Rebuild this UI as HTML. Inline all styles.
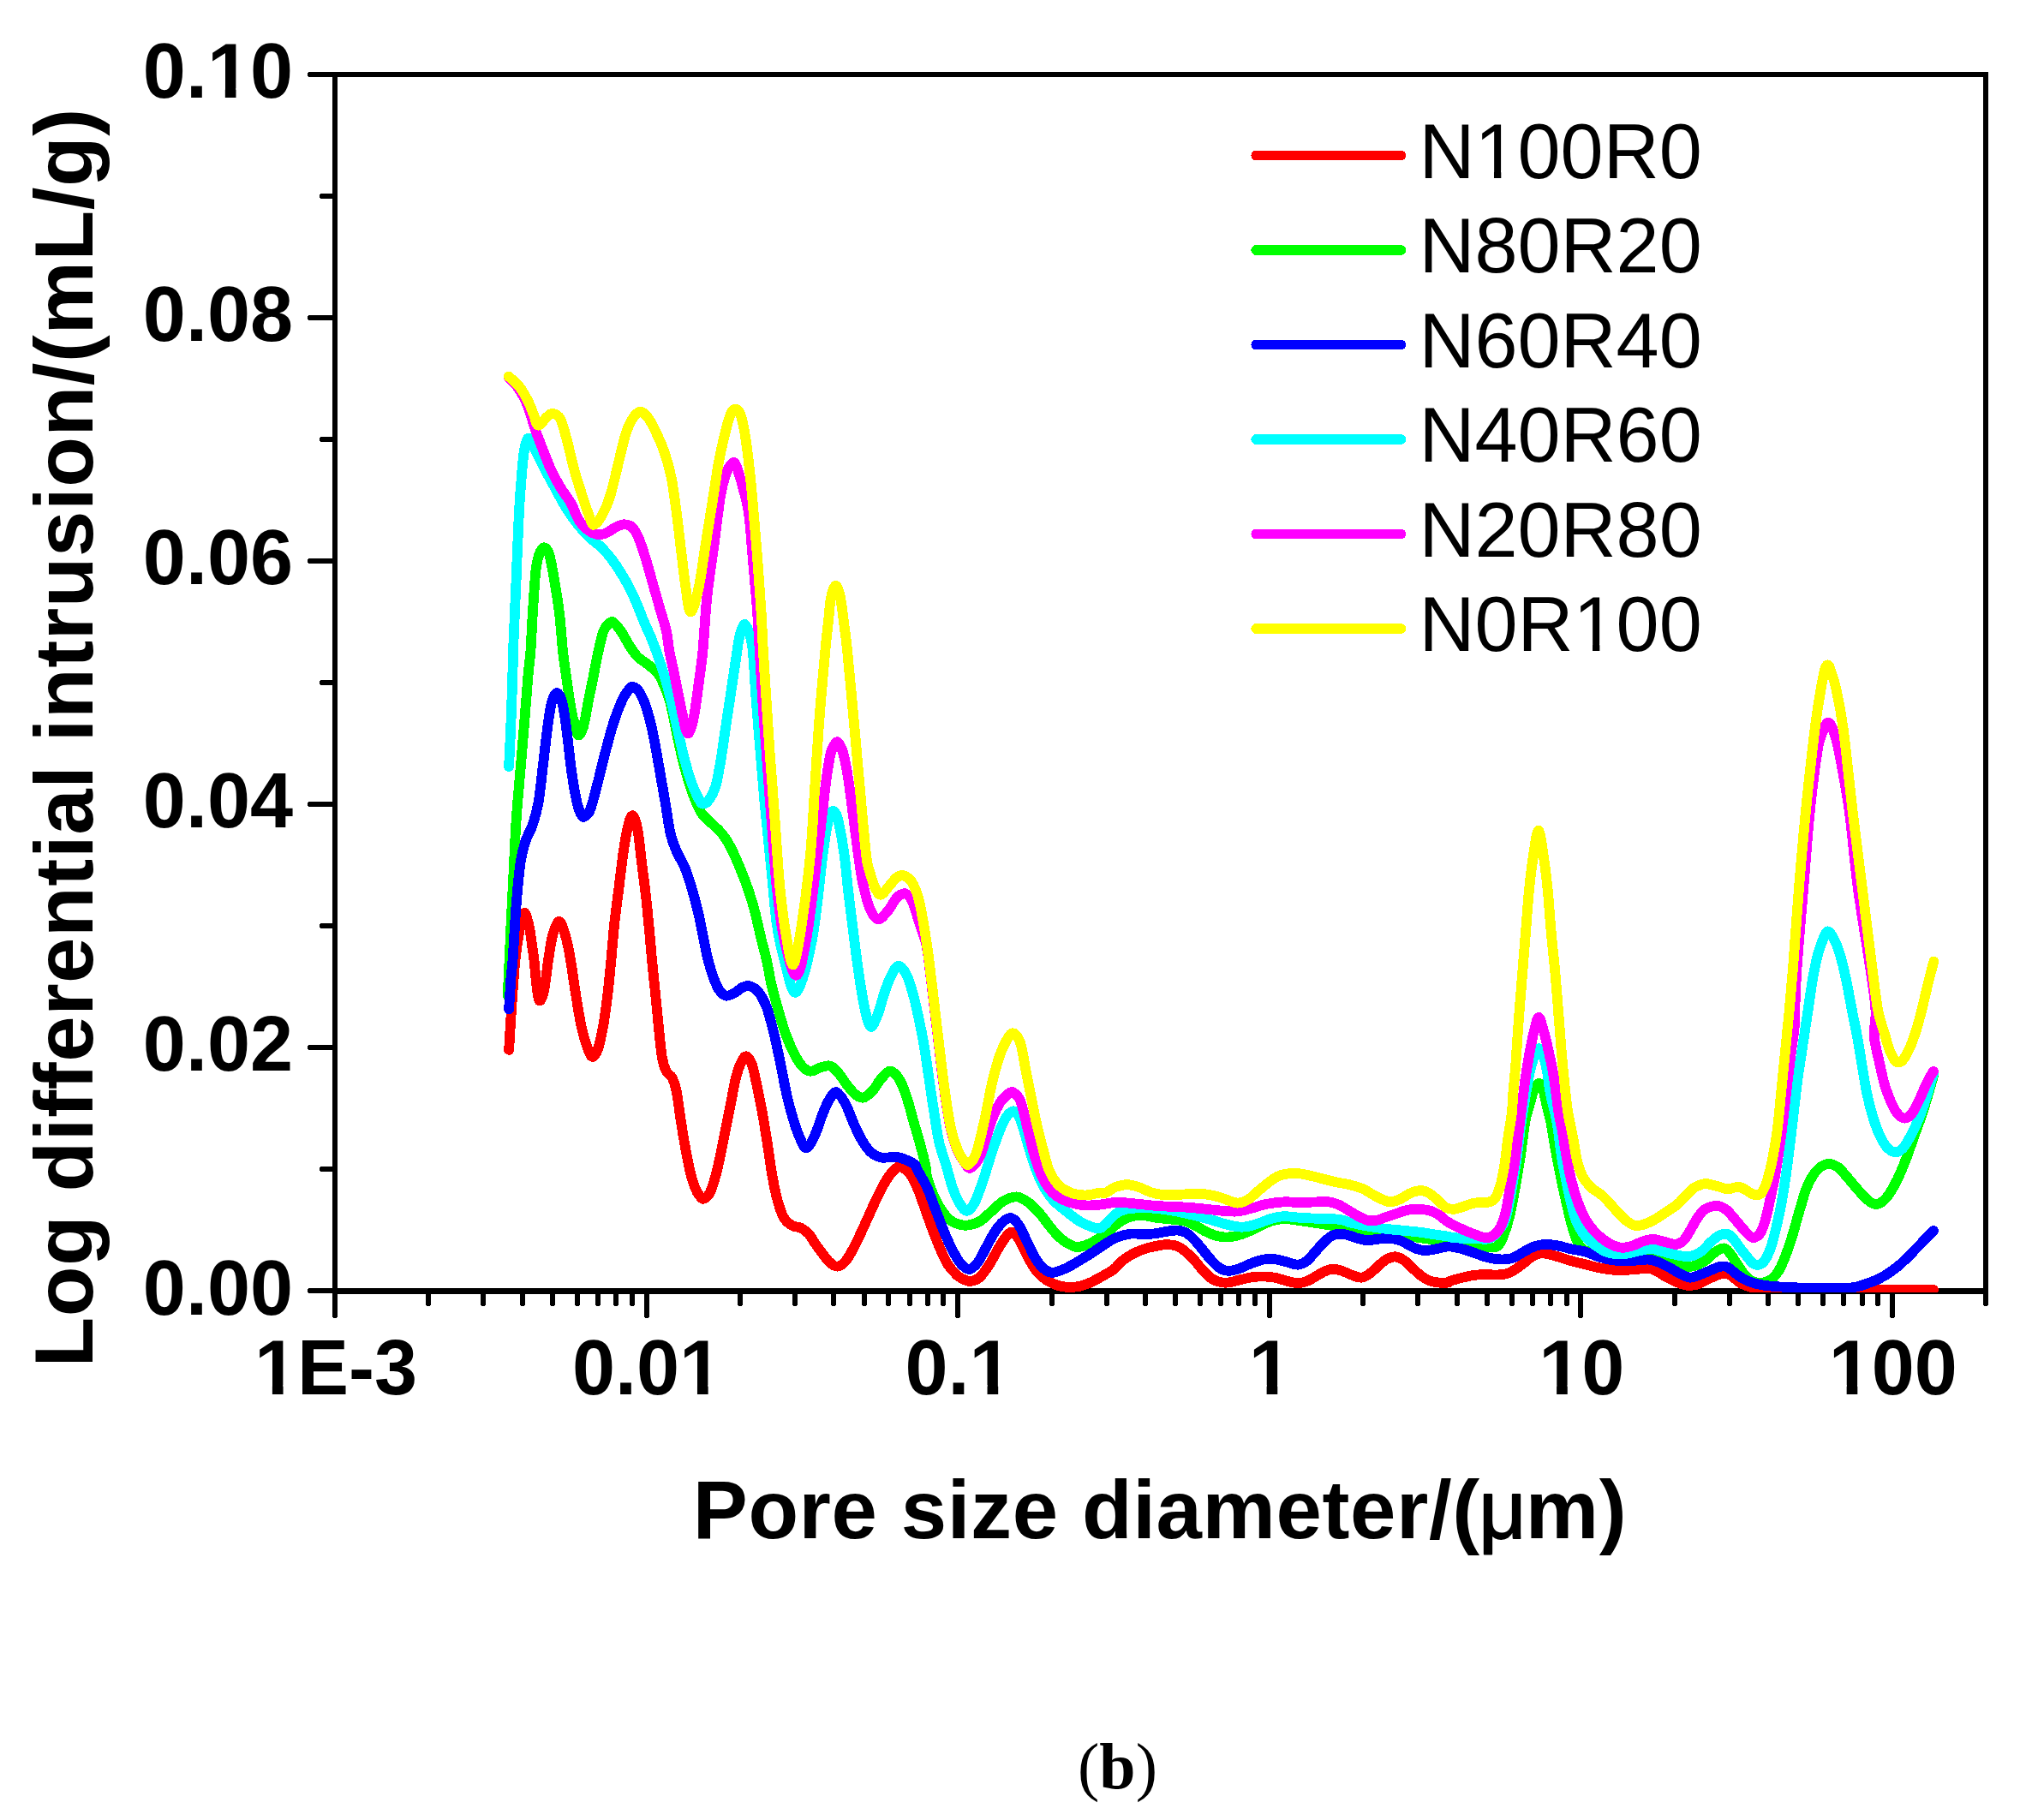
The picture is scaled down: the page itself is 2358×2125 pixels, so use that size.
<!DOCTYPE html>
<html lang="en"><head><meta charset="utf-8"><title>Pore size distribution (b)</title>
<style>html,body{margin:0;padding:0;background:#fff}svg{display:block}text{font-family:"Liberation Sans",sans-serif;fill:#000}.b{font-weight:bold}.tk{font-size:90px;font-weight:bold}.ti{font-size:96px;font-weight:bold}.lg{font-size:90px}</style></head><body>
<svg width="2358" height="2125" viewBox="0 0 2358 2125">
<rect width="2358" height="2125" fill="#fff"/>
<g fill="#000" shape-rendering="crispEdges">
<rect x="388" y="84" width="1933" height="6"/>
<rect x="388" y="84" width="6" height="1427"/>
<rect x="2315" y="84" width="6" height="1427"/>
<rect x="388" y="1504" width="1933" height="7"/>
</g>
<g stroke="#000" stroke-width="6" stroke-linecap="round" fill="none" shape-rendering="crispEdges">
<path d="M391 1507H362"/>
<path d="M391 1365H376"/>
<path d="M391 1223H362"/>
<path d="M391 1081H376"/>
<path d="M391 939H362"/>
<path d="M391 797H376"/>
<path d="M391 655H362"/>
<path d="M391 513H376"/>
<path d="M391 371H362"/>
<path d="M391 229H376"/>
<path d="M391 87H362"/>
<path d="M391 1507V1536"/>
<path d="M500 1507V1522"/>
<path d="M564 1507V1522"/>
<path d="M610 1507V1522"/>
<path d="M645 1507V1522"/>
<path d="M674 1507V1522"/>
<path d="M698 1507V1522"/>
<path d="M719 1507V1522"/>
<path d="M738 1507V1522"/>
<path d="M755 1507V1536"/>
<path d="M864 1507V1522"/>
<path d="M928 1507V1522"/>
<path d="M973 1507V1522"/>
<path d="M1009 1507V1522"/>
<path d="M1037 1507V1522"/>
<path d="M1062 1507V1522"/>
<path d="M1083 1507V1522"/>
<path d="M1101 1507V1522"/>
<path d="M1118 1507V1536"/>
<path d="M1228 1507V1522"/>
<path d="M1292 1507V1522"/>
<path d="M1337 1507V1522"/>
<path d="M1372 1507V1522"/>
<path d="M1401 1507V1522"/>
<path d="M1425 1507V1522"/>
<path d="M1446 1507V1522"/>
<path d="M1465 1507V1522"/>
<path d="M1482 1507V1536"/>
<path d="M1591 1507V1522"/>
<path d="M1655 1507V1522"/>
<path d="M1701 1507V1522"/>
<path d="M1736 1507V1522"/>
<path d="M1765 1507V1522"/>
<path d="M1789 1507V1522"/>
<path d="M1810 1507V1522"/>
<path d="M1829 1507V1522"/>
<path d="M1845 1507V1536"/>
<path d="M1955 1507V1522"/>
<path d="M2019 1507V1522"/>
<path d="M2064 1507V1522"/>
<path d="M2099 1507V1522"/>
<path d="M2128 1507V1522"/>
<path d="M2152 1507V1522"/>
<path d="M2174 1507V1522"/>
<path d="M2192 1507V1522"/>
<path d="M2209 1507V1536"/>
<path d="M2318 1507V1522"/>
</g>
<clipPath id="plot"><rect x="391" y="87" width="1927" height="1422"/></clipPath>
<g clip-path="url(#plot)" fill="none" stroke-width="11.8" stroke-linecap="round" stroke-linejoin="round" shape-rendering="crispEdges">
<path stroke="#ff0000" d="M594.1 1225.9C594.7 1216.5 596.4 1187.2 597.6 1169.5C598.9 1151.8 600.1 1133.9 601.6 1120.0C603.1 1106.1 604.8 1095.3 606.5 1086.3C608.3 1077.3 610.1 1066.9 611.9 1065.9C613.7 1065.0 615.8 1073.7 617.4 1080.4C619.0 1087.1 620.4 1099.5 621.4 1106.1C622.4 1112.7 622.5 1112.7 623.4 1120.0C624.2 1127.3 625.3 1141.6 626.3 1149.7C627.4 1157.8 628.2 1167.5 629.7 1168.5C631.2 1169.5 633.5 1163.7 635.2 1155.6C637.0 1147.6 638.5 1130.6 640.2 1120.0C641.8 1109.4 643.1 1099.6 645.1 1092.3C647.2 1084.9 650.2 1075.8 652.7 1075.8C655.1 1075.8 657.8 1084.9 660.0 1092.3C662.2 1099.6 664.0 1108.8 665.9 1120.0C667.9 1131.2 669.7 1146.4 671.9 1159.6C674.0 1172.8 676.5 1188.6 678.8 1199.2C681.1 1209.8 683.6 1217.2 685.7 1223.0C687.9 1228.7 689.5 1233.9 691.7 1233.9C693.8 1233.9 696.5 1229.4 698.6 1223.0C700.8 1216.5 702.7 1205.8 704.6 1195.2C706.4 1184.7 708.0 1172.1 709.5 1159.6C711.0 1147.1 712.1 1133.8 713.5 1120.0C714.8 1106.2 715.9 1090.6 717.4 1076.8C718.9 1063.0 720.7 1050.4 722.4 1037.2C724.0 1024.0 725.7 1009.2 727.3 997.6C729.0 986.1 730.5 975.5 732.3 967.9C734.1 960.3 736.2 952.1 738.2 952.1C740.2 952.1 742.3 958.7 744.2 967.9C746.0 977.2 747.5 994.3 749.1 1007.5C750.8 1020.7 752.6 1033.9 754.1 1047.1C755.5 1060.3 756.9 1074.6 758.0 1086.7C759.2 1098.9 759.8 1107.9 761.0 1120.0C762.1 1132.1 763.6 1146.4 765.0 1159.6C766.3 1172.8 767.6 1186.7 768.9 1199.2C770.2 1211.7 771.4 1226.3 772.9 1234.9C774.4 1243.4 775.8 1246.7 777.8 1250.7C779.8 1254.7 782.8 1254.7 784.8 1258.6C786.7 1262.6 788.1 1266.2 789.7 1274.5C791.4 1282.7 793.0 1297.6 794.7 1308.1C796.3 1318.7 797.8 1327.9 799.6 1337.8C801.4 1347.7 803.6 1359.3 805.5 1367.5C807.5 1375.8 809.5 1382.4 811.5 1387.3C813.5 1392.3 815.8 1395.2 817.4 1397.2C819.1 1399.3 819.6 1400.3 821.4 1399.6C823.2 1398.9 826.0 1397.6 828.3 1393.3C830.6 1388.9 833.1 1381.1 835.2 1373.5C837.4 1365.9 839.2 1357.0 841.2 1347.7C843.2 1338.5 845.1 1327.9 847.1 1318.0C849.1 1308.1 851.1 1298.2 853.1 1288.3C855.0 1278.4 857.0 1266.5 859.0 1258.6C861.0 1250.7 862.9 1245.0 865.0 1240.8C867.0 1236.6 869.1 1232.9 871.3 1233.3C873.4 1233.6 875.7 1236.9 877.8 1242.8C879.9 1248.6 881.8 1259.3 883.8 1268.5C885.7 1277.8 887.7 1287.3 889.7 1298.2C891.7 1309.1 893.8 1322.3 895.6 1333.9C897.5 1345.4 898.8 1357.0 900.6 1367.5C902.4 1378.1 904.2 1388.3 906.5 1397.2C908.8 1406.1 911.5 1415.4 914.5 1421.0C917.4 1426.6 920.9 1428.7 924.4 1430.9C927.8 1433.0 931.9 1432.2 935.2 1433.9C938.5 1435.5 941.4 1437.7 944.2 1440.8C947.0 1443.9 948.2 1447.4 952.1 1452.7C955.9 1458.0 963.0 1468.3 967.3 1472.7C971.7 1477.0 974.6 1479.1 978.2 1478.6C981.8 1478.1 985.3 1474.8 989.1 1469.7C992.9 1464.6 997.0 1455.8 1001.0 1447.9C1005.0 1440.0 1008.9 1430.8 1012.9 1422.2C1016.8 1413.6 1020.8 1404.4 1024.8 1396.4C1028.7 1388.5 1033.0 1380.1 1036.6 1374.7C1040.3 1369.2 1043.9 1365.7 1046.5 1363.8C1049.2 1361.8 1049.8 1361.6 1052.5 1362.8C1055.1 1363.9 1059.1 1366.1 1062.4 1370.7C1065.7 1375.3 1069.0 1382.6 1072.3 1390.5C1075.6 1398.4 1078.5 1408.3 1082.2 1418.2C1085.8 1428.1 1090.1 1440.3 1094.1 1449.9C1098.0 1459.5 1102.0 1469.0 1105.9 1475.6C1109.9 1482.2 1114.2 1486.3 1117.8 1489.5C1121.5 1492.7 1125.1 1494.0 1127.7 1495.0C1130.4 1496.1 1131.0 1496.4 1133.7 1495.8C1136.3 1495.2 1139.9 1494.9 1143.6 1491.5C1147.2 1488.1 1151.8 1481.3 1155.4 1475.6C1159.1 1470.0 1162.0 1463.3 1165.3 1457.8C1168.6 1452.4 1172.4 1446.1 1175.2 1443.0C1178.1 1439.8 1179.5 1437.9 1182.2 1439.0C1184.8 1440.2 1188.0 1444.8 1191.1 1449.9C1194.2 1455.0 1197.7 1463.8 1201.0 1469.7C1204.3 1475.6 1207.3 1481.3 1210.9 1485.5C1214.5 1489.8 1218.5 1492.8 1222.8 1495.4C1227.1 1498.1 1231.7 1500.1 1236.6 1501.4C1241.6 1502.6 1247.2 1503.3 1252.5 1503.0C1257.8 1502.6 1263.0 1501.3 1268.3 1499.4C1273.6 1497.5 1278.9 1494.4 1284.2 1491.5C1289.4 1488.6 1295.6 1485.4 1299.9 1482.2C1304.2 1479.0 1306.2 1475.2 1309.8 1472.3C1313.4 1469.3 1317.4 1466.7 1321.7 1464.4C1326.0 1462.0 1330.9 1460.0 1335.5 1458.4C1340.2 1456.8 1344.8 1455.7 1349.4 1454.9C1354.0 1454.0 1359.0 1453.0 1363.3 1453.1C1367.6 1453.2 1371.5 1453.9 1375.1 1455.4C1378.8 1457.0 1381.7 1459.6 1385.0 1462.4C1388.3 1465.2 1391.7 1468.6 1395.0 1472.3C1398.3 1475.9 1401.6 1480.7 1404.9 1484.2C1408.2 1487.6 1411.5 1490.9 1414.8 1493.1C1418.1 1495.2 1421.4 1496.3 1424.7 1497.0C1428.0 1497.8 1430.6 1497.9 1434.6 1497.4C1438.5 1496.9 1443.8 1495.1 1448.4 1494.1C1453.0 1493.0 1457.7 1491.7 1462.3 1491.1C1466.9 1490.5 1471.8 1490.4 1476.1 1490.5C1480.4 1490.6 1484.1 1490.9 1488.0 1491.7C1492.0 1492.4 1496.3 1494.1 1499.9 1495.0C1503.5 1496.0 1506.8 1497.1 1509.8 1497.6C1512.8 1498.1 1514.8 1498.4 1517.7 1498.0C1520.7 1497.6 1524.0 1496.7 1527.6 1495.0C1531.3 1493.4 1535.9 1490.1 1539.5 1488.1C1543.1 1486.1 1546.4 1484.2 1549.4 1483.2C1552.4 1482.1 1554.4 1481.6 1557.3 1481.8C1560.3 1481.9 1563.6 1482.9 1567.2 1484.2C1570.9 1485.4 1575.5 1487.9 1579.1 1489.1C1582.7 1490.4 1585.7 1492.0 1589.0 1491.7C1592.3 1491.4 1595.6 1489.4 1598.9 1487.1C1602.2 1484.9 1605.5 1481.0 1608.8 1478.2C1612.1 1475.4 1615.4 1472.1 1618.7 1470.3C1622.0 1468.5 1625.3 1467.2 1628.6 1467.3C1631.9 1467.5 1635.2 1469.1 1638.5 1471.3C1641.8 1473.4 1645.1 1477.2 1648.4 1480.2C1651.7 1483.2 1655.0 1486.6 1658.3 1489.1C1661.6 1491.6 1664.9 1493.7 1668.2 1495.0C1671.5 1496.4 1674.5 1497.0 1678.1 1497.4C1681.7 1497.9 1687.7 1497.9 1690.0 1497.6C1692.3 1497.4 1689.3 1497.0 1691.9 1496.0C1694.5 1495.1 1701.1 1493.2 1705.7 1492.1C1710.4 1490.9 1715.0 1489.8 1719.6 1489.1C1724.2 1488.4 1728.8 1488.2 1733.5 1488.1C1738.1 1488.0 1743.0 1488.7 1747.3 1488.5C1751.6 1488.3 1755.9 1488.0 1759.2 1487.1C1762.5 1486.2 1764.2 1485.0 1767.1 1483.2C1770.1 1481.4 1773.7 1478.7 1777.0 1476.2C1780.3 1473.8 1784.0 1470.3 1786.9 1468.3C1789.9 1466.3 1792.2 1465.2 1794.9 1464.4C1797.5 1463.5 1798.8 1462.9 1802.8 1463.4C1806.7 1463.9 1813.3 1465.8 1818.6 1467.3C1823.9 1468.8 1829.2 1470.8 1834.5 1472.3C1839.7 1473.8 1845.0 1474.9 1850.3 1476.2C1855.6 1477.6 1860.9 1479.1 1866.1 1480.2C1871.4 1481.3 1877.4 1482.1 1882.0 1482.6C1886.6 1483.1 1889.6 1483.2 1893.9 1483.2C1898.2 1483.1 1902.4 1482.5 1907.7 1482.2C1913.0 1481.8 1920.9 1480.7 1925.5 1481.2C1930.2 1481.7 1932.1 1483.5 1935.4 1485.1C1938.7 1486.8 1941.7 1489.1 1945.3 1491.1C1949.0 1493.1 1953.6 1495.5 1957.2 1497.0C1960.9 1498.6 1964.5 1499.7 1967.1 1500.4C1969.8 1501.1 1970.4 1501.2 1973.1 1501.0C1975.7 1500.8 1979.3 1500.3 1983.0 1499.0C1986.6 1497.7 1990.9 1494.9 1994.9 1493.1C1998.8 1491.3 2003.4 1489.1 2006.7 1488.1C2010.0 1487.1 2012.2 1486.8 2014.7 1487.1C2017.1 1487.4 2018.6 1488.1 2021.4 1489.9C2024.1 1491.7 2027.6 1495.7 2031.3 1497.8C2034.9 1500.0 2038.9 1501.5 2043.1 1502.8C2047.4 1504.1 2051.4 1505.0 2057.0 1505.5C2062.6 1506.1 2066.9 1506.0 2076.8 1506.1C2086.7 1506.2 2096.6 1506.2 2116.4 1506.1C2136.2 1506.1 2172.2 1506.0 2195.6 1505.9C2219.1 1505.9 2246.8 1505.9 2257.0 1505.9"/>
<path stroke="#00ff00" d="M592.7 1162.6C593.3 1148.3 595.5 1101.0 596.6 1076.8C597.8 1052.6 598.6 1037.2 599.6 1017.4C600.6 997.6 601.3 977.8 602.6 958.0C603.9 938.2 605.9 918.4 607.5 898.6C609.2 878.8 611.0 857.4 612.5 839.2C614.0 821.1 615.3 802.9 616.4 789.7C617.6 776.5 618.5 772.1 619.4 760.0C620.3 747.9 620.8 732.3 621.8 716.8C622.8 701.4 624.1 678.9 625.3 667.3C626.6 655.8 627.7 652.2 629.3 647.5C631.0 642.8 633.3 639.2 635.2 639.2C637.2 639.2 639.2 641.2 641.2 647.5C643.2 653.9 645.1 665.7 647.1 677.2C649.1 688.8 651.4 703.0 653.1 716.8C654.7 730.6 655.7 747.9 657.0 760.0C658.3 772.1 659.3 778.2 661.0 789.7C662.6 801.3 665.1 819.4 666.9 829.3C668.7 839.2 670.5 844.2 671.9 849.1C673.3 854.0 673.8 858.6 675.2 858.6C676.7 858.6 678.9 855.6 680.8 849.1C682.7 842.6 684.8 829.3 686.7 819.4C688.7 809.5 690.7 799.6 692.7 789.7C694.7 779.8 696.6 768.8 698.6 760.0C700.6 751.2 702.6 741.8 704.6 736.6C706.5 731.4 708.7 730.4 710.5 728.7C712.3 727.0 713.1 725.1 715.4 726.3C717.8 727.6 721.1 731.6 724.4 736.2C727.7 740.9 731.9 749.4 735.2 754.5C738.5 759.5 740.7 763.2 744.2 766.7C747.6 770.3 752.1 772.4 756.0 775.6C760.0 778.9 764.8 782.1 767.9 786.1C771.1 790.1 772.5 794.1 774.9 799.6C777.2 805.1 779.7 810.2 782.2 819.4C784.7 828.6 787.2 843.5 789.7 855.0C792.2 866.6 794.7 878.5 797.2 888.7C799.8 898.9 802.6 908.5 805.1 916.4C807.7 924.4 810.1 930.6 812.5 936.2C814.9 941.8 816.6 946.1 819.4 950.1C822.2 954.1 825.3 956.0 829.3 960.0C833.3 964.0 839.2 968.9 843.2 973.9C847.1 978.8 849.8 983.4 853.1 989.7C856.4 996.0 859.7 1003.6 863.0 1011.5C866.3 1019.4 869.9 1028.6 872.9 1037.2C875.8 1045.8 878.2 1053.1 880.8 1063.0C883.4 1072.9 886.4 1087.1 888.7 1096.6C891.0 1106.1 892.7 1111.2 894.7 1120.0C896.6 1128.8 898.3 1139.8 900.6 1149.7C902.9 1159.6 905.9 1170.2 908.5 1179.4C911.2 1188.6 913.5 1196.9 916.4 1205.1C919.4 1213.4 923.0 1222.3 926.3 1228.9C929.6 1235.5 932.9 1241.1 936.2 1244.8C939.5 1248.4 942.6 1250.4 946.1 1250.7C949.7 1251.0 953.6 1247.6 957.4 1246.5C961.3 1245.5 965.7 1243.4 969.3 1244.6C972.9 1245.7 975.9 1249.7 979.2 1253.5C982.5 1257.3 985.8 1263.2 989.1 1267.3C992.4 1271.5 995.9 1275.8 999.0 1278.2C1002.1 1280.6 1004.6 1282.4 1007.9 1281.6C1011.2 1280.8 1015.3 1277.0 1018.8 1273.3C1022.3 1269.6 1025.2 1263.2 1028.7 1259.4C1032.2 1255.6 1036.0 1250.2 1039.6 1250.5C1043.2 1250.8 1047.4 1256.3 1050.5 1261.4C1053.6 1266.5 1055.8 1273.3 1058.4 1281.2C1061.1 1289.1 1063.7 1299.7 1066.3 1308.9C1069.0 1318.2 1071.9 1328.1 1074.3 1336.6C1076.6 1345.1 1078.9 1353.7 1080.2 1360.0C1081.5 1366.3 1080.5 1368.6 1082.2 1374.7C1083.8 1380.7 1087.1 1389.8 1090.1 1396.4C1093.1 1403.0 1096.7 1409.5 1100.0 1414.3C1103.3 1419.0 1106.6 1422.6 1109.9 1425.1C1113.2 1427.7 1116.5 1428.8 1119.8 1429.7C1123.1 1430.6 1125.7 1431.1 1129.7 1430.5C1133.7 1429.9 1138.9 1428.8 1143.6 1426.1C1148.2 1423.4 1152.8 1418.2 1157.4 1414.3C1162.0 1410.3 1166.3 1405.2 1171.3 1402.4C1176.2 1399.6 1182.2 1397.1 1187.1 1397.4C1192.1 1397.8 1196.4 1400.9 1201.0 1404.4C1205.6 1407.8 1210.2 1412.9 1214.9 1418.2C1219.5 1423.5 1224.4 1431.1 1228.7 1436.0C1233.0 1441.0 1236.6 1444.8 1240.6 1447.9C1244.6 1451.1 1249.2 1453.5 1252.5 1454.9C1255.8 1456.2 1257.1 1456.3 1260.4 1455.8C1263.7 1455.3 1268.0 1453.9 1272.3 1451.9C1276.6 1449.9 1283.2 1445.7 1286.1 1444.0C1289.1 1442.2 1287.4 1443.8 1290.0 1441.6C1292.6 1439.4 1297.9 1433.8 1301.9 1430.7C1305.8 1427.6 1310.1 1424.6 1313.8 1422.8C1317.4 1421.0 1320.4 1420.5 1323.7 1419.8C1327.0 1419.1 1329.3 1418.5 1333.6 1418.8C1337.9 1419.1 1343.5 1421.0 1349.4 1421.8C1355.3 1422.6 1363.6 1423.1 1369.2 1423.8C1374.8 1424.4 1378.8 1424.6 1383.1 1425.7C1387.4 1426.9 1391.0 1428.7 1395.0 1430.7C1398.9 1432.7 1402.9 1435.6 1406.8 1437.6C1410.8 1439.6 1414.8 1441.4 1418.7 1442.6C1422.7 1443.7 1426.3 1444.6 1430.6 1444.6C1434.9 1444.6 1439.8 1443.7 1444.5 1442.6C1449.1 1441.4 1453.7 1439.6 1458.3 1437.6C1462.9 1435.6 1467.9 1432.7 1472.2 1430.7C1476.5 1428.7 1480.1 1427.0 1484.1 1425.7C1488.0 1424.5 1492.0 1423.5 1495.9 1423.2C1499.9 1422.8 1502.5 1423.2 1507.8 1423.8C1513.1 1424.4 1521.0 1425.7 1527.6 1426.7C1534.2 1427.7 1540.8 1428.7 1547.4 1429.7C1554.0 1430.7 1560.6 1431.5 1567.2 1432.7C1573.8 1433.8 1580.4 1435.6 1587.0 1436.6C1593.6 1437.6 1600.2 1438.0 1606.8 1438.6C1613.4 1439.3 1620.0 1439.8 1626.6 1440.6C1633.2 1441.4 1639.8 1442.6 1646.4 1443.6C1653.0 1444.6 1660.3 1445.7 1666.2 1446.5C1672.2 1447.4 1676.5 1447.7 1682.1 1448.5C1687.7 1449.3 1693.5 1450.5 1699.8 1451.5C1706.1 1452.5 1713.0 1453.6 1719.6 1454.5C1726.2 1455.3 1734.8 1456.3 1739.4 1456.4C1744.0 1456.6 1745.0 1457.0 1747.3 1455.4C1749.7 1453.9 1751.0 1453.1 1753.5 1447.0C1756.0 1440.9 1759.2 1433.3 1762.5 1418.7C1765.8 1404.1 1770.4 1377.4 1773.4 1359.3C1776.4 1341.2 1778.5 1321.0 1780.3 1310.1C1782.1 1299.2 1783.0 1299.2 1784.5 1293.7C1786.0 1288.2 1787.7 1281.4 1789.0 1277.2C1790.3 1273.0 1791.3 1270.5 1792.5 1268.5C1793.7 1266.5 1795.0 1264.9 1796.2 1264.9C1797.4 1264.9 1798.9 1266.5 1799.9 1268.5C1801.0 1270.5 1801.5 1273.0 1802.5 1277.2C1803.5 1281.4 1804.9 1288.2 1806.2 1293.7C1807.5 1299.2 1808.2 1299.2 1810.3 1310.1C1812.4 1321.0 1815.3 1341.2 1818.9 1359.3C1822.5 1377.4 1828.2 1403.8 1831.8 1418.7C1835.4 1433.6 1838.0 1441.7 1840.7 1448.4C1843.4 1455.1 1845.1 1456.8 1848.0 1459.0C1850.9 1461.2 1853.2 1460.2 1858.2 1461.4C1863.2 1462.5 1871.4 1465.0 1878.0 1465.9C1884.6 1466.9 1891.2 1467.2 1897.8 1467.3C1904.4 1467.5 1912.7 1466.9 1917.6 1466.9C1922.6 1466.9 1923.6 1466.8 1927.5 1467.3C1931.5 1467.9 1936.4 1468.8 1941.4 1470.3C1946.3 1471.8 1952.9 1474.9 1957.2 1476.2C1961.5 1477.6 1964.5 1477.8 1967.1 1478.2C1969.8 1478.6 1970.4 1479.1 1973.1 1478.8C1975.7 1478.5 1979.7 1477.7 1983.0 1476.2C1986.3 1474.8 1989.6 1472.8 1992.9 1470.3C1996.2 1467.8 1999.5 1463.5 2002.8 1461.4C2006.1 1459.2 2009.9 1457.1 2012.7 1457.4C2015.4 1457.7 2016.9 1460.2 2019.4 1463.2C2021.8 1466.1 2024.7 1471.1 2027.3 1475.0C2029.9 1479.0 2032.6 1483.6 2035.2 1486.9C2037.9 1490.2 2040.2 1493.0 2043.1 1494.9C2046.1 1496.7 2050.1 1497.5 2053.0 1497.8C2056.0 1498.2 2058.3 1497.7 2061.0 1496.8C2063.6 1496.0 2066.3 1495.2 2068.9 1492.9C2071.5 1490.6 2074.2 1487.6 2076.8 1483.0C2079.5 1478.3 2082.1 1472.1 2084.7 1465.1C2087.4 1458.2 2090.0 1450.0 2092.7 1441.4C2095.3 1432.8 2097.9 1422.6 2100.6 1413.7C2103.2 1404.8 2105.9 1394.9 2108.5 1387.9C2111.1 1381.0 2113.8 1376.2 2116.4 1372.1C2119.1 1368.0 2121.7 1365.3 2124.3 1363.2C2127.0 1361.0 2130.3 1359.9 2132.3 1359.2C2134.2 1358.5 2133.9 1358.2 2136.2 1358.8C2138.5 1359.5 2142.8 1360.6 2146.1 1363.2C2149.4 1365.7 2152.7 1370.3 2156.0 1374.1C2159.3 1377.9 2162.6 1382.1 2165.9 1385.9C2169.2 1389.7 2172.9 1393.9 2175.8 1396.8C2178.8 1399.8 2181.4 1402.2 2183.7 1403.8C2186.1 1405.3 2187.4 1406.3 2189.7 1406.1C2192.0 1406.0 2195.0 1404.8 2197.6 1402.8C2200.2 1400.7 2202.6 1398.3 2205.5 1393.9C2208.5 1389.4 2212.1 1383.0 2215.4 1376.0C2218.7 1369.1 2222.0 1360.9 2225.3 1352.3C2228.6 1343.7 2231.9 1333.8 2235.2 1324.6C2238.5 1315.3 2242.3 1305.4 2245.1 1296.8C2247.9 1288.3 2250.0 1280.1 2252.1 1273.1C2254.1 1266.1 2256.5 1257.9 2257.4 1254.9"/>
<path stroke="#0000ff" d="M594.1 1178.4C594.5 1172.0 595.9 1149.5 596.6 1139.8C597.4 1130.1 597.6 1133.8 598.6 1120.0C599.6 1106.2 601.1 1075.8 602.6 1057.0C604.1 1038.3 605.7 1020.1 607.5 1007.5C609.3 995.0 611.2 989.0 613.5 981.8C615.8 974.5 618.9 971.2 621.4 964.0C623.9 956.7 626.3 949.1 628.3 938.2C630.3 927.3 631.5 913.5 633.3 898.6C635.1 883.8 637.4 862.3 639.2 849.1C641.0 835.9 642.3 826.1 644.2 819.4C646.0 812.7 648.1 809.1 650.1 809.1C652.1 809.1 654.2 812.7 656.0 819.4C657.9 826.1 659.2 835.9 661.0 849.1C662.8 862.3 665.0 884.4 666.9 898.6C668.9 912.8 671.1 925.7 672.9 934.3C674.7 942.8 676.3 946.9 677.8 950.1C679.3 953.3 680.0 954.3 681.8 953.7C683.6 953.0 686.2 952.0 688.7 946.1C691.2 940.3 693.7 929.6 696.6 918.4C699.6 907.2 703.2 891.4 706.5 878.8C709.8 866.3 713.1 853.4 716.4 843.2C719.7 832.9 723.4 823.9 726.3 817.4C729.3 811.0 732.2 807.1 734.3 804.6C736.3 802.0 736.8 801.5 738.8 802.0C740.8 802.5 743.6 803.6 746.1 807.5C748.7 811.4 751.4 817.4 754.1 825.3C756.7 833.3 759.3 842.8 762.0 855.0C764.6 867.3 767.4 884.8 769.9 898.6C772.4 912.5 774.7 925.7 776.8 938.2C779.0 950.8 780.6 964.6 782.8 973.9C784.9 983.1 786.9 987.1 789.7 993.7C792.5 1000.3 796.6 1006.2 799.6 1013.5C802.6 1020.7 804.9 1028.3 807.5 1037.2C810.2 1046.1 813.1 1057.0 815.4 1066.9C817.8 1076.8 819.6 1087.8 821.4 1096.6C823.2 1105.5 824.5 1112.8 826.3 1120.0C828.2 1127.2 830.1 1133.9 832.3 1139.8C834.4 1145.7 836.7 1151.8 839.2 1155.6C841.7 1159.4 844.2 1161.9 847.1 1162.6C850.1 1163.2 853.7 1161.3 857.0 1159.6C860.3 1158.0 864.0 1154.1 866.9 1152.7C869.9 1151.3 871.9 1150.5 874.9 1151.3C877.8 1152.1 881.5 1153.6 884.8 1157.6C888.1 1161.7 891.7 1167.9 894.7 1175.4C897.6 1183.0 899.9 1192.6 902.6 1203.2C905.2 1213.7 907.9 1226.3 910.5 1238.8C913.1 1251.4 915.8 1266.9 918.4 1278.4C921.1 1290.0 923.7 1299.5 926.3 1308.1C929.0 1316.7 931.7 1324.6 934.3 1329.9C936.8 1335.2 938.7 1341.1 941.6 1340.2C944.5 1339.3 948.5 1331.0 951.5 1324.8C954.5 1318.5 956.8 1309.6 959.4 1303.0C962.0 1296.4 964.5 1289.8 967.3 1285.1C970.1 1280.5 972.9 1274.6 976.2 1275.2C979.5 1275.9 983.7 1282.8 987.1 1289.1C990.6 1295.4 993.7 1305.6 997.0 1312.9C1000.3 1320.1 1003.6 1327.2 1006.9 1332.7C1010.2 1338.1 1013.2 1342.4 1016.8 1345.5C1020.5 1348.7 1023.8 1350.6 1028.7 1351.5C1033.7 1352.4 1041.6 1350.4 1046.5 1350.9C1051.5 1351.4 1054.8 1352.9 1058.4 1354.5C1062.0 1356.0 1066.3 1358.3 1068.3 1360.0C1070.3 1361.7 1068.0 1360.3 1070.3 1364.8C1072.6 1369.2 1078.5 1378.6 1082.2 1386.5C1085.8 1394.5 1088.8 1403.7 1092.1 1412.3C1095.4 1420.9 1098.7 1430.1 1102.0 1438.0C1105.3 1445.9 1108.6 1453.5 1111.9 1459.8C1115.2 1466.1 1118.5 1471.9 1121.8 1475.6C1125.1 1479.3 1128.4 1482.3 1131.7 1482.0C1135.0 1481.7 1138.3 1478.0 1141.6 1473.7C1144.9 1469.3 1148.2 1461.8 1151.5 1455.8C1154.8 1449.9 1158.1 1443.0 1161.4 1438.0C1164.7 1433.1 1168.2 1428.8 1171.3 1426.1C1174.4 1423.5 1177.2 1421.5 1180.2 1422.2C1183.2 1422.8 1186.0 1425.5 1189.1 1430.1C1192.2 1434.7 1195.7 1443.3 1199.0 1449.9C1202.3 1456.5 1205.6 1464.4 1208.9 1469.7C1212.2 1475.0 1215.5 1478.9 1218.8 1481.6C1222.1 1484.3 1224.4 1486.1 1228.7 1485.9C1233.0 1485.8 1239.3 1483.0 1244.6 1480.6C1249.8 1478.2 1255.1 1474.8 1260.4 1471.7C1265.7 1468.5 1271.3 1465.0 1276.2 1461.8C1281.2 1458.6 1285.4 1455.3 1290.0 1452.5C1294.6 1449.6 1298.9 1446.5 1303.9 1444.6C1308.8 1442.6 1314.4 1441.2 1319.7 1440.6C1325.0 1440.0 1330.6 1441.1 1335.5 1441.0C1340.5 1440.9 1344.8 1440.8 1349.4 1440.2C1354.0 1439.6 1359.0 1438.2 1363.3 1437.6C1367.6 1437.0 1371.5 1436.3 1375.1 1436.6C1378.8 1437.0 1381.7 1437.6 1385.0 1439.6C1388.3 1441.6 1391.7 1445.0 1395.0 1448.5C1398.3 1452.0 1401.6 1456.4 1404.9 1460.4C1408.2 1464.4 1411.5 1468.8 1414.8 1472.3C1418.1 1475.7 1421.4 1479.3 1424.7 1481.2C1428.0 1483.1 1430.9 1483.8 1434.6 1483.8C1438.2 1483.8 1442.1 1482.6 1446.4 1481.2C1450.7 1479.8 1455.7 1477.0 1460.3 1475.2C1464.9 1473.5 1469.9 1471.6 1474.2 1470.7C1478.4 1469.8 1482.1 1469.6 1486.0 1469.9C1490.0 1470.2 1494.3 1471.4 1497.9 1472.3C1501.6 1473.2 1504.9 1474.5 1507.8 1475.2C1510.8 1476.0 1512.8 1477.1 1515.7 1476.6C1518.7 1476.1 1522.3 1474.8 1525.6 1472.3C1528.9 1469.7 1532.2 1465.0 1535.5 1461.4C1538.8 1457.8 1542.1 1453.6 1545.4 1450.5C1548.7 1447.4 1552.0 1444.2 1555.3 1442.6C1558.6 1440.9 1561.9 1440.6 1565.2 1440.6C1568.5 1440.6 1571.5 1441.6 1575.1 1442.6C1578.8 1443.6 1583.4 1445.6 1587.0 1446.5C1590.7 1447.5 1593.0 1448.1 1596.9 1448.1C1600.9 1448.1 1606.2 1446.9 1610.8 1446.5C1615.4 1446.2 1620.7 1445.8 1624.7 1446.1C1628.6 1446.5 1631.3 1447.3 1634.6 1448.5C1637.9 1449.7 1641.2 1451.8 1644.5 1453.5C1647.8 1455.1 1651.1 1457.3 1654.4 1458.4C1657.7 1459.5 1660.6 1460.0 1664.3 1460.0C1667.9 1460.0 1671.8 1459.2 1676.1 1458.4C1680.4 1457.7 1685.4 1455.6 1690.0 1455.4C1694.6 1455.3 1698.8 1456.3 1703.8 1457.4C1708.7 1458.6 1714.7 1460.7 1719.6 1462.4C1724.6 1464.0 1729.2 1466.1 1733.5 1467.3C1737.8 1468.6 1741.4 1469.4 1745.3 1469.9C1749.3 1470.4 1753.6 1470.6 1757.2 1470.3C1760.9 1470.0 1763.5 1469.8 1767.1 1468.3C1770.8 1466.8 1775.0 1463.5 1779.0 1461.4C1783.0 1459.2 1786.9 1456.9 1790.9 1455.4C1794.9 1454.0 1798.2 1453.0 1802.8 1452.9C1807.4 1452.7 1813.3 1453.5 1818.6 1454.5C1823.9 1455.4 1829.2 1457.3 1834.5 1458.4C1839.7 1459.6 1845.0 1459.9 1850.3 1461.4C1855.6 1462.9 1860.9 1465.7 1866.1 1467.3C1871.4 1469.0 1876.7 1470.5 1882.0 1471.3C1887.3 1472.1 1892.5 1472.3 1897.8 1472.3C1903.1 1472.3 1909.0 1471.6 1913.7 1471.3C1918.3 1471.0 1921.6 1470.2 1925.5 1470.7C1929.5 1471.2 1933.5 1472.7 1937.4 1474.3C1941.4 1475.8 1945.3 1478.1 1949.3 1480.2C1953.3 1482.3 1957.2 1485.2 1961.2 1487.1C1965.1 1489.0 1969.1 1491.5 1973.1 1491.7C1977.0 1491.8 1981.0 1489.5 1985.0 1488.1C1988.9 1486.7 1993.2 1484.7 1996.8 1483.2C2000.5 1481.7 2003.8 1479.9 2006.7 1479.2C2009.7 1478.5 2012.2 1478.2 2014.7 1478.8C2017.1 1479.4 2018.6 1481.0 2021.4 1483.0C2024.1 1485.0 2027.6 1488.6 2031.3 1490.9C2034.9 1493.2 2038.9 1495.2 2043.1 1496.8C2047.4 1498.4 2051.4 1499.5 2057.0 1500.4C2062.6 1501.3 2068.6 1501.8 2076.8 1502.4C2085.1 1502.9 2096.6 1503.4 2106.5 1503.8C2116.4 1504.1 2128.0 1504.3 2136.2 1504.4C2144.5 1504.4 2150.7 1504.3 2156.0 1504.0C2161.4 1503.6 2164.2 1503.1 2168.3 1502.2C2172.4 1501.2 2176.6 1499.7 2180.8 1498.2C2184.9 1496.7 2189.0 1495.2 2193.0 1493.3C2197.1 1491.3 2201.0 1489.0 2204.9 1486.3C2208.9 1483.7 2212.9 1480.7 2216.8 1477.4C2220.7 1474.1 2224.5 1470.3 2228.3 1466.5C2232.1 1462.7 2236.3 1458.3 2239.8 1454.7C2243.3 1451.0 2246.6 1447.7 2249.5 1444.8C2252.4 1441.8 2255.8 1438.3 2257.0 1437.0"/>
<path stroke="#00ffff" d="M594.1 895.0C594.5 885.7 595.9 858.4 596.6 839.2C597.4 820.0 598.1 795.2 598.6 779.8C599.1 764.4 598.9 763.6 599.6 746.5C600.3 729.4 601.5 702.0 602.6 677.2C603.6 652.5 604.8 619.5 605.9 598.0C607.1 576.6 608.4 561.1 609.5 548.5C610.6 536.0 611.2 528.9 612.5 522.8C613.8 516.7 615.3 511.2 617.4 511.9C619.6 512.5 622.4 521.0 625.3 526.7C628.3 532.5 631.6 539.6 635.2 546.5C638.9 553.5 643.2 561.1 647.1 568.3C651.1 575.6 655.0 583.5 659.0 590.1C663.0 596.7 667.3 603.0 670.9 607.9C674.5 612.9 677.5 616.2 680.8 619.8C684.1 623.4 687.1 626.4 690.7 629.7C694.3 633.0 698.6 635.6 702.6 639.6C706.5 643.6 710.5 648.2 714.5 653.5C718.4 658.7 722.7 665.3 726.3 671.3C730.0 677.2 733.3 683.2 736.2 689.1C739.2 695.0 741.5 700.7 744.2 706.9C746.8 713.2 749.4 720.5 752.1 726.7C754.7 733.0 757.7 739.0 760.0 744.6C762.3 750.1 763.3 752.5 765.9 760.0C768.6 767.5 772.9 779.8 775.8 789.7C778.8 799.6 781.1 808.5 783.8 819.4C786.4 830.3 789.0 843.5 791.7 855.0C794.3 866.6 797.0 878.8 799.6 888.7C802.2 898.6 804.9 907.2 807.5 914.5C810.2 921.7 813.3 928.3 815.4 932.3C817.6 936.3 818.4 938.3 820.4 938.6C822.4 938.9 824.9 937.6 827.3 934.3C829.8 930.9 832.9 926.0 835.2 918.4C837.6 910.8 839.2 900.3 841.2 888.7C843.2 877.2 845.1 862.3 847.1 849.1C849.1 835.9 851.1 822.7 853.1 809.5C855.0 796.3 857.4 780.7 859.0 769.9C860.7 759.1 861.3 751.4 863.0 744.6C864.6 737.8 866.9 729.8 868.9 729.1C870.9 728.4 873.2 735.4 874.9 740.6C876.5 745.7 877.5 746.9 878.8 760.0C880.1 773.1 881.3 799.6 882.8 819.4C884.3 839.2 886.1 859.0 887.7 878.8C889.4 898.6 890.5 915.1 892.7 938.2C894.8 961.3 898.3 994.3 900.6 1017.4C902.9 1040.5 904.2 1060.3 906.5 1076.8C908.8 1093.3 910.7 1102.8 914.5 1116.4C918.3 1130.1 923.7 1161.9 929.3 1158.6C934.9 1155.3 942.9 1123.5 948.1 1096.6C953.3 1069.8 957.5 1020.0 960.5 997.4C963.5 974.8 964.8 968.7 966.2 961.0C967.7 953.3 968.1 953.4 969.2 951.0C970.3 948.6 971.5 946.8 972.7 946.8C973.9 946.8 975.1 948.6 976.2 951.0C977.3 953.4 977.7 953.3 979.2 961.0C980.8 968.7 983.7 984.3 985.5 997.4C987.3 1010.5 988.5 1026.0 990.1 1039.6C991.7 1053.2 993.4 1066.0 995.0 1079.2C996.7 1092.4 998.2 1105.6 1000.0 1118.8C1001.8 1132.0 1004.1 1147.5 1005.9 1158.4C1007.8 1169.3 1009.1 1177.4 1010.9 1184.2C1012.7 1190.9 1014.5 1199.0 1016.8 1199.0C1019.1 1199.0 1022.1 1190.9 1024.8 1184.2C1027.4 1177.4 1030.0 1166.0 1032.7 1158.4C1035.3 1150.8 1037.9 1143.7 1040.6 1138.6C1043.3 1133.5 1045.9 1127.7 1048.9 1127.7C1051.9 1127.7 1055.5 1132.8 1058.4 1138.6C1061.3 1144.4 1064.0 1154.1 1066.3 1162.4C1068.6 1170.6 1070.3 1178.9 1072.3 1188.1C1074.3 1197.4 1076.2 1206.3 1078.2 1217.8C1080.2 1229.4 1082.2 1244.2 1084.2 1257.4C1086.1 1270.6 1088.1 1284.5 1090.1 1297.0C1092.1 1309.6 1093.7 1322.4 1096.0 1332.7C1098.3 1343.0 1101.3 1349.8 1104.0 1358.8C1106.6 1367.8 1109.2 1378.9 1111.9 1386.5C1114.5 1394.1 1117.0 1399.8 1119.8 1404.4C1122.6 1408.9 1125.7 1413.9 1128.7 1413.9C1131.7 1413.9 1134.5 1410.2 1137.6 1404.4C1140.8 1398.5 1144.2 1388.2 1147.5 1378.6C1150.8 1369.0 1154.1 1356.8 1157.4 1346.9C1160.7 1337.0 1164.4 1326.5 1167.3 1319.2C1170.3 1311.9 1172.5 1307.0 1175.2 1303.4C1178.0 1299.7 1180.9 1296.8 1183.6 1297.4C1186.2 1298.1 1188.5 1301.4 1191.1 1307.3C1193.7 1313.3 1196.4 1324.5 1199.0 1333.1C1201.7 1341.7 1204.0 1350.6 1206.9 1358.8C1209.9 1367.1 1213.2 1375.6 1216.8 1382.6C1220.5 1389.5 1224.1 1395.1 1228.7 1400.4C1233.3 1405.7 1239.3 1410.0 1244.6 1414.3C1249.8 1418.5 1255.1 1423.0 1260.4 1426.1C1265.7 1429.3 1272.3 1431.7 1276.2 1433.1C1280.2 1434.4 1281.9 1434.6 1284.2 1434.1C1286.5 1433.5 1287.0 1432.4 1290.0 1429.7C1293.0 1427.0 1298.3 1420.7 1301.9 1417.8C1305.5 1415.0 1307.2 1413.7 1311.8 1412.5C1316.4 1411.2 1323.3 1410.6 1329.6 1410.3C1335.9 1410.0 1342.8 1410.3 1349.4 1410.9C1356.0 1411.5 1362.6 1412.5 1369.2 1413.7C1375.8 1414.8 1382.4 1416.3 1389.0 1417.8C1395.6 1419.3 1402.2 1421.0 1408.8 1422.8C1415.4 1424.6 1422.7 1427.1 1428.6 1428.7C1434.6 1430.3 1440.2 1431.7 1444.5 1432.3C1448.7 1432.9 1450.4 1432.9 1454.4 1432.3C1458.3 1431.7 1463.3 1430.3 1468.2 1428.7C1473.2 1427.1 1479.1 1424.2 1484.1 1422.8C1489.0 1421.4 1492.3 1420.4 1497.9 1420.2C1503.5 1420.0 1511.1 1421.4 1517.7 1421.8C1524.3 1422.2 1529.9 1422.4 1537.5 1422.8C1545.1 1423.1 1556.7 1422.9 1563.3 1423.8C1569.9 1424.6 1571.5 1426.4 1577.1 1427.7C1582.7 1429.0 1590.3 1430.5 1596.9 1431.7C1603.5 1432.8 1610.1 1433.8 1616.7 1434.7C1623.3 1435.5 1629.9 1436.0 1636.5 1436.6C1643.1 1437.3 1649.7 1437.8 1656.3 1438.6C1662.9 1439.4 1670.5 1440.8 1676.1 1441.6C1681.7 1442.4 1686.7 1443.0 1690.0 1443.6C1693.3 1444.1 1692.2 1444.5 1695.8 1445.0C1699.5 1445.4 1706.4 1445.9 1711.7 1446.1C1717.0 1446.4 1722.9 1446.6 1727.5 1446.5C1732.1 1446.5 1735.7 1447.6 1739.4 1445.9C1743.1 1444.3 1746.3 1441.1 1749.5 1436.6C1752.7 1432.1 1755.3 1431.6 1758.6 1418.7C1761.9 1405.8 1766.6 1377.4 1769.5 1359.3C1772.4 1341.2 1773.8 1323.8 1775.8 1310.1C1777.8 1296.4 1779.5 1286.8 1781.2 1277.2C1782.9 1267.6 1784.2 1259.3 1785.7 1252.4C1787.2 1245.5 1788.8 1240.1 1790.0 1236.0C1791.2 1231.9 1792.0 1230.0 1793.0 1228.0C1794.0 1226.0 1795.2 1224.1 1796.3 1224.1C1797.4 1224.1 1798.6 1226.0 1799.6 1228.0C1800.6 1230.0 1801.4 1231.9 1802.5 1236.0C1803.6 1240.1 1805.0 1245.5 1806.2 1252.4C1807.4 1259.3 1808.0 1267.6 1809.9 1277.2C1811.8 1286.8 1815.0 1296.4 1817.4 1310.1C1819.8 1323.8 1821.0 1341.2 1824.4 1359.3C1827.8 1377.4 1833.7 1405.2 1837.7 1418.7C1841.7 1432.2 1844.6 1435.0 1848.3 1440.6C1852.1 1446.2 1855.9 1449.0 1860.2 1452.5C1864.5 1455.9 1869.4 1459.4 1874.1 1461.4C1878.7 1463.4 1884.0 1463.9 1887.9 1464.4C1891.9 1464.8 1893.5 1464.6 1897.8 1464.0C1902.1 1463.3 1908.7 1461.4 1913.7 1460.4C1918.6 1459.4 1922.9 1457.9 1927.5 1458.0C1932.1 1458.2 1936.4 1460.2 1941.4 1461.4C1946.3 1462.6 1952.9 1464.4 1957.2 1465.3C1961.5 1466.3 1963.8 1466.8 1967.1 1466.9C1970.4 1467.0 1973.7 1467.0 1977.0 1465.9C1980.3 1464.9 1983.6 1463.0 1986.9 1460.4C1990.2 1457.8 1993.5 1453.5 1996.8 1450.5C2000.1 1447.5 2003.4 1444.2 2006.7 1442.6C2010.0 1441.0 2013.9 1440.4 2016.6 1441.0C2019.4 1441.6 2020.9 1443.6 2023.3 1446.3C2025.8 1449.0 2028.6 1453.8 2031.3 1457.2C2033.9 1460.7 2036.7 1464.2 2039.2 1467.1C2041.7 1470.1 2044.0 1473.4 2046.1 1475.0C2048.3 1476.7 2049.9 1477.4 2052.1 1477.0C2054.2 1476.7 2056.5 1476.4 2059.0 1473.1C2061.5 1469.8 2064.3 1464.8 2066.9 1457.2C2069.6 1449.6 2072.5 1437.4 2074.8 1427.5C2077.1 1417.6 2078.8 1409.4 2080.8 1397.8C2082.8 1386.3 2084.7 1373.1 2086.7 1358.2C2088.7 1343.4 2090.7 1325.2 2092.7 1308.7C2094.6 1292.2 2096.6 1274.1 2098.6 1259.2C2100.6 1244.4 2102.6 1232.8 2104.5 1219.6C2106.5 1206.4 2108.7 1192.1 2110.5 1180.0C2112.3 1167.9 2113.8 1156.6 2115.4 1146.7C2117.1 1136.9 2118.6 1128.6 2120.4 1121.0C2122.2 1113.4 2124.1 1106.8 2126.3 1101.2C2128.6 1095.6 2131.0 1087.3 2133.8 1087.3C2136.6 1087.3 2140.5 1095.6 2143.1 1101.2C2145.8 1106.8 2147.6 1113.4 2149.7 1121.0C2151.8 1128.6 2153.6 1136.9 2155.6 1146.7C2157.7 1156.6 2159.9 1169.5 2162.0 1180.0C2164.0 1190.5 2165.9 1198.8 2167.9 1209.7C2169.9 1220.6 2171.9 1233.8 2173.8 1245.3C2175.8 1256.9 2177.5 1268.4 2179.8 1279.0C2182.1 1289.6 2185.1 1300.5 2187.7 1308.7C2190.3 1317.0 2193.0 1323.2 2195.6 1328.5C2198.3 1333.8 2200.7 1337.6 2203.5 1340.4C2206.3 1343.2 2209.5 1345.3 2212.5 1345.3C2215.4 1345.3 2218.2 1343.9 2221.4 1340.4C2224.5 1336.9 2228.0 1330.8 2231.3 1324.6C2234.6 1318.3 2238.4 1309.7 2241.2 1302.8C2244.0 1295.8 2246.1 1289.2 2248.1 1283.0C2250.1 1276.7 2252.0 1270.0 2253.4 1265.1C2254.9 1260.3 2256.4 1255.6 2257.0 1253.7"/>
<path stroke="#ff00ff" d="M593.7 440.6C595.5 442.6 601.1 447.5 604.6 452.5C608.0 457.4 611.8 464.5 614.5 470.3C617.1 476.1 618.6 481.7 620.4 487.1C622.2 492.6 623.5 497.7 625.3 503.0C627.2 508.3 628.3 511.2 631.3 518.8C634.3 526.4 639.2 539.9 643.2 548.5C647.1 557.1 651.1 563.7 655.0 570.3C659.0 576.9 663.6 582.2 666.9 588.1C670.2 594.1 671.9 601.0 674.9 605.9C677.8 610.9 681.1 614.9 684.8 617.8C688.4 620.8 693.0 622.9 696.6 623.8C700.3 624.6 702.9 624.1 706.5 622.8C710.2 621.5 714.8 617.6 718.4 615.8C722.0 614.1 725.0 612.3 728.3 612.3C731.6 612.3 735.2 612.9 738.2 615.8C741.2 618.7 743.5 623.4 746.1 629.7C748.8 636.0 751.4 644.9 754.1 653.5C756.7 662.0 759.3 671.9 762.0 681.2C764.6 690.4 767.3 699.7 769.9 708.9C772.5 718.2 775.9 728.1 777.8 736.6C779.7 745.1 779.7 751.2 781.4 760.0C783.0 768.8 785.3 778.2 787.7 789.7C790.1 801.3 793.2 818.3 795.6 829.3C798.1 840.4 800.3 854.4 802.6 856.0C804.9 857.7 807.4 848.6 809.5 839.2C811.7 829.8 813.6 812.8 815.4 799.6C817.3 786.4 818.7 777.1 820.4 760.0C822.0 742.9 823.2 717.4 825.3 697.0C827.5 676.6 830.6 657.4 833.3 637.6C835.9 617.8 838.9 592.1 841.2 578.2C843.5 564.4 845.1 560.4 847.1 554.5C849.1 548.5 851.3 544.8 853.1 542.6C854.9 540.3 856.4 539.0 858.0 541.0C859.7 543.0 861.5 549.9 863.0 554.5C864.5 559.0 865.1 561.1 866.9 568.3C868.7 575.6 871.8 583.2 873.9 598.0C875.9 612.9 877.5 637.6 879.2 657.4C880.9 677.2 882.3 689.8 884.2 716.8C886.0 743.8 888.5 792.4 890.3 819.4C892.0 846.4 892.9 855.7 894.7 878.8C896.4 901.9 898.5 931.6 900.6 958.0C902.6 984.4 904.5 1014.1 906.9 1037.2C909.4 1060.3 911.7 1079.7 915.4 1096.6C919.2 1113.6 925.0 1138.8 929.3 1138.8C933.6 1138.8 937.0 1120.2 941.2 1096.6C945.4 1073.1 950.6 1027.1 954.3 997.4C958.0 967.7 961.2 936.4 963.5 918.2C965.8 900.0 966.7 895.2 968.0 888.0C969.3 880.8 969.7 878.6 971.2 875.0C972.7 871.4 975.1 866.1 977.0 866.1C978.9 866.1 981.2 871.4 982.8 875.0C984.3 878.6 984.8 880.8 986.3 888.0C987.8 895.2 988.9 900.0 991.5 918.2C994.1 936.4 999.2 978.8 1001.8 997.4C1004.4 1016.0 1004.8 1019.4 1006.9 1029.7C1009.1 1040.0 1011.9 1052.1 1014.9 1059.4C1017.8 1066.7 1021.1 1072.6 1024.8 1073.3C1028.4 1073.9 1033.0 1067.5 1036.6 1063.4C1040.3 1059.2 1043.2 1051.9 1046.5 1048.5C1049.8 1045.1 1053.6 1043.0 1056.4 1043.2C1059.2 1043.3 1061.5 1046.8 1063.4 1049.5C1065.2 1052.2 1066.0 1054.5 1067.7 1059.4C1069.4 1064.4 1071.6 1072.6 1073.7 1079.2C1075.8 1085.8 1078.7 1092.4 1080.4 1099.0C1082.1 1105.6 1082.2 1107.3 1083.8 1118.8C1085.3 1130.4 1087.7 1151.8 1089.7 1168.3C1091.7 1184.8 1093.7 1201.3 1095.6 1217.8C1097.6 1234.3 1099.3 1250.8 1101.6 1267.3C1103.9 1283.8 1106.9 1304.3 1109.5 1316.8C1112.1 1329.4 1114.8 1336.0 1117.4 1342.6C1120.1 1349.2 1122.8 1352.9 1125.3 1356.4C1127.9 1360.0 1129.6 1364.7 1132.7 1363.8C1135.7 1362.8 1140.4 1357.0 1143.6 1350.9C1146.7 1344.8 1148.8 1335.0 1151.5 1327.1C1154.1 1319.2 1156.8 1310.0 1159.4 1303.4C1162.0 1296.8 1164.7 1291.7 1167.3 1287.5C1170.0 1283.4 1172.8 1280.7 1175.2 1278.6C1177.7 1276.6 1179.5 1274.1 1182.2 1275.2C1184.8 1276.4 1188.3 1278.9 1191.1 1285.5C1193.9 1292.2 1196.4 1305.0 1199.0 1315.2C1201.7 1325.5 1204.0 1337.0 1206.9 1346.9C1209.9 1356.8 1213.2 1367.1 1216.8 1374.7C1220.5 1382.2 1224.1 1387.9 1228.7 1392.5C1233.3 1397.1 1238.3 1399.9 1244.6 1402.4C1250.8 1404.9 1259.4 1406.7 1266.3 1407.3C1273.3 1408.0 1280.5 1406.9 1286.1 1406.3C1291.7 1405.8 1296.0 1404.4 1299.9 1404.0C1303.8 1403.6 1304.9 1403.6 1309.8 1404.0C1314.8 1404.3 1323.0 1405.3 1329.6 1405.9C1336.2 1406.6 1342.8 1407.4 1349.4 1407.9C1356.0 1408.4 1362.6 1408.6 1369.2 1408.9C1375.8 1409.2 1382.4 1409.4 1389.0 1409.9C1395.6 1410.4 1402.2 1411.2 1408.8 1411.9C1415.4 1412.5 1422.7 1413.4 1428.6 1413.9C1434.6 1414.3 1439.2 1415.0 1444.5 1414.5C1449.7 1414.0 1454.7 1412.3 1460.3 1410.9C1465.9 1409.5 1471.8 1407.2 1478.1 1405.9C1484.4 1404.7 1491.3 1403.7 1497.9 1403.4C1504.5 1403.0 1511.1 1404.0 1517.7 1404.0C1524.3 1404.0 1531.9 1403.5 1537.5 1403.4C1543.1 1403.3 1547.1 1402.8 1551.4 1403.4C1555.7 1404.0 1559.3 1405.2 1563.3 1406.9C1567.2 1408.7 1571.2 1411.6 1575.1 1413.9C1579.1 1416.2 1583.4 1419.0 1587.0 1420.8C1590.7 1422.6 1593.6 1424.1 1596.9 1424.8C1600.2 1425.4 1603.2 1425.4 1606.8 1424.8C1610.5 1424.1 1614.8 1422.1 1618.7 1420.8C1622.7 1419.5 1626.6 1418.2 1630.6 1416.8C1634.6 1415.5 1638.2 1413.7 1642.5 1412.9C1646.8 1412.0 1651.7 1411.7 1656.3 1411.9C1661.0 1412.0 1666.2 1412.7 1670.2 1413.9C1674.2 1415.0 1676.8 1416.7 1680.1 1418.8C1683.4 1421.0 1685.7 1424.1 1690.0 1426.7C1694.3 1429.4 1700.8 1432.3 1705.7 1434.7C1710.7 1437.0 1715.3 1438.9 1719.6 1440.6C1723.9 1442.2 1728.2 1443.9 1731.5 1444.6C1734.8 1445.2 1736.4 1445.9 1739.4 1444.6C1742.4 1443.2 1746.4 1441.0 1749.3 1436.6C1752.2 1432.3 1754.7 1426.6 1756.8 1418.6C1759.0 1410.7 1760.5 1398.8 1762.4 1388.9C1764.2 1379.0 1766.4 1369.1 1767.9 1359.2C1769.5 1349.3 1770.4 1339.6 1771.7 1329.7C1772.9 1319.8 1773.9 1312.1 1775.4 1300.0C1777.0 1287.9 1779.2 1269.0 1781.0 1256.8C1782.7 1244.7 1784.3 1236.0 1785.9 1227.1C1787.6 1218.2 1789.2 1209.9 1790.9 1203.4C1792.6 1196.8 1794.4 1187.9 1796.2 1187.9C1798.1 1187.9 1799.9 1196.8 1801.8 1203.4C1803.7 1209.9 1805.7 1218.2 1807.7 1227.1C1809.7 1236.0 1811.7 1244.7 1813.7 1256.8C1815.6 1269.0 1818.0 1289.5 1819.6 1300.0C1821.3 1310.5 1822.1 1311.6 1823.6 1319.8C1825.0 1328.1 1826.7 1339.6 1828.5 1349.5C1830.3 1359.4 1832.1 1370.0 1834.5 1379.2C1836.8 1388.4 1839.7 1397.7 1842.4 1405.0C1845.0 1412.2 1847.3 1417.5 1850.3 1422.8C1853.3 1428.1 1856.6 1432.5 1860.2 1436.6C1863.8 1440.8 1868.1 1444.6 1872.1 1447.5C1876.0 1450.5 1880.3 1452.9 1884.0 1454.5C1887.6 1456.0 1890.2 1456.8 1893.9 1456.8C1897.5 1456.8 1901.8 1455.7 1905.7 1454.5C1909.7 1453.2 1913.7 1450.8 1917.6 1449.5C1921.6 1448.3 1925.5 1446.9 1929.5 1446.9C1933.5 1446.9 1937.8 1448.6 1941.4 1449.5C1945.0 1450.4 1948.6 1451.5 1951.3 1452.1C1953.9 1452.6 1954.9 1453.5 1957.2 1452.9C1959.5 1452.3 1962.5 1451.2 1965.1 1448.5C1967.8 1445.8 1970.4 1440.9 1973.1 1436.6C1975.7 1432.3 1978.3 1426.7 1981.0 1422.8C1983.6 1418.8 1985.9 1415.2 1988.9 1412.9C1991.9 1410.5 1995.8 1409.3 1998.8 1408.5C2001.8 1407.8 2004.0 1407.6 2006.7 1408.3C2009.5 1409.0 2012.3 1410.1 2015.4 1412.7C2018.5 1415.2 2022.0 1419.8 2025.3 1423.6C2028.6 1427.4 2032.3 1432.1 2035.2 1435.4C2038.2 1438.7 2041.0 1441.8 2043.1 1443.4C2045.3 1445.0 2046.1 1445.6 2048.1 1445.0C2050.1 1444.3 2052.9 1443.0 2055.0 1439.4C2057.2 1435.8 2059.0 1430.5 2061.0 1423.6C2063.0 1416.6 2064.9 1407.1 2066.9 1397.8C2068.9 1388.6 2070.9 1379.7 2072.9 1368.1C2074.8 1356.6 2076.8 1343.4 2078.8 1328.5C2080.8 1313.7 2082.8 1295.5 2084.7 1279.0C2086.7 1262.5 2089.0 1242.7 2090.7 1229.5C2092.3 1216.3 2093.9 1208.1 2094.6 1199.8C2095.4 1191.5 2094.8 1191.5 2095.3 1179.7C2095.8 1167.9 2095.9 1152.8 2097.6 1129.0C2099.2 1105.2 2102.6 1067.5 2105.2 1036.8C2107.8 1006.0 2110.2 971.4 2113.0 944.5C2115.8 917.6 2119.4 890.2 2121.8 875.3C2124.2 860.4 2126.0 859.7 2127.5 855.0C2129.0 850.3 2129.5 848.9 2130.6 847.0C2131.7 845.1 2132.9 843.9 2134.1 843.9C2135.3 843.9 2136.5 845.1 2137.6 847.0C2138.7 848.9 2139.3 850.3 2140.7 855.0C2142.1 859.7 2143.2 860.4 2146.2 875.3C2149.1 890.2 2154.6 917.6 2158.4 944.5C2162.2 971.4 2164.7 1006.0 2168.8 1036.8C2172.9 1067.5 2179.6 1105.2 2183.0 1129.0C2186.4 1152.8 2188.7 1166.2 2189.5 1179.7C2190.3 1193.2 2187.0 1199.8 2187.7 1209.7C2188.4 1219.7 2191.7 1230.2 2193.6 1239.4C2195.6 1248.6 2197.3 1257.2 2199.6 1265.1C2201.9 1273.1 2204.9 1281.0 2207.5 1286.9C2210.1 1292.9 2212.8 1297.7 2215.4 1300.8C2218.1 1303.9 2220.7 1305.7 2223.3 1305.7C2226.0 1305.7 2228.6 1303.9 2231.3 1300.8C2233.9 1297.7 2236.5 1292.2 2239.2 1286.9C2241.8 1281.7 2244.8 1274.1 2247.1 1269.1C2249.4 1264.2 2251.4 1260.3 2253.0 1257.2C2254.7 1254.2 2256.3 1251.9 2257.0 1250.9"/>
<path stroke="#ffff00" d="M593.7 439.6C595.6 441.4 601.7 445.7 605.5 450.5C609.3 455.3 613.5 462.5 616.4 468.3C619.4 474.1 621.4 480.4 623.4 485.1C625.3 489.9 625.8 496.3 628.3 496.6C630.8 497.0 635.4 489.4 638.2 487.1C641.0 484.8 642.5 482.4 645.1 482.8C647.8 483.1 651.4 484.4 654.1 489.1C656.7 493.8 658.2 500.7 661.0 510.9C663.8 521.1 667.6 538.6 670.9 550.5C674.2 562.4 678.0 573.6 680.8 582.2C683.6 590.8 685.7 596.9 687.7 602.0C689.8 607.1 690.6 612.9 693.1 612.9C695.5 612.9 699.3 607.8 702.6 602.0C705.8 596.2 709.2 588.8 712.5 578.2C715.8 567.7 719.4 550.5 722.4 538.6C725.3 526.7 727.7 515.2 730.3 506.9C732.9 498.7 735.4 493.5 738.2 489.1C741.0 484.8 744.2 481.1 747.1 480.8C750.1 480.5 752.9 483.1 756.0 487.1C759.2 491.2 762.6 498.0 765.9 505.0C769.2 511.9 772.9 519.8 775.8 528.7C778.8 537.6 781.5 546.9 783.8 558.4C786.1 570.0 787.7 583.2 789.7 598.0C791.7 612.9 793.8 632.7 795.6 647.5C797.5 662.4 798.8 676.0 800.6 687.1C802.3 698.3 803.7 714.5 806.1 714.5C808.6 714.5 812.6 699.9 815.4 687.1C818.3 674.3 820.7 654.1 823.4 637.6C826.0 621.1 828.6 604.6 831.3 588.1C833.9 571.6 836.6 552.8 839.2 538.6C841.8 524.4 844.8 512.2 847.1 503.0C849.4 493.7 851.3 487.4 853.1 483.2C854.9 478.9 856.2 477.6 858.0 477.6C859.8 477.6 862.1 478.9 864.0 483.2C865.8 487.4 867.3 493.7 868.9 503.0C870.6 512.2 872.2 524.4 873.9 538.6C875.5 552.8 877.2 570.0 878.8 588.1C880.5 606.3 882.1 626.1 883.8 647.5C885.4 669.0 887.6 698.7 888.7 716.8C889.9 735.0 889.7 739.3 890.7 756.4C891.7 773.5 893.3 799.0 894.7 819.4C896.0 839.8 897.0 855.7 898.6 878.8C900.3 901.9 902.6 931.6 904.6 958.0C906.5 984.4 908.2 1014.1 910.5 1037.2C912.8 1060.3 915.8 1081.8 918.4 1096.6C921.1 1111.4 923.4 1129.2 926.3 1125.9C929.3 1122.6 933.0 1098.3 936.2 1076.8C939.5 1055.4 943.5 1023.8 946.0 997.4C948.5 971.0 949.5 944.6 951.3 918.2C953.0 891.8 954.5 865.5 956.5 839.1C958.5 812.7 961.6 778.9 963.3 760.0C965.0 741.1 965.9 735.2 966.9 725.9C967.9 716.6 968.3 709.7 969.1 704.0C969.9 698.3 970.5 694.9 971.6 691.5C972.7 688.1 974.3 683.8 975.6 683.8C976.9 683.8 978.5 688.1 979.6 691.5C980.7 694.9 981.2 698.3 982.1 704.0C983.0 709.7 983.7 716.6 984.9 725.9C986.1 735.2 987.2 741.1 989.1 760.0C991.0 778.9 994.1 812.7 996.5 839.1C998.9 865.5 1001.2 891.8 1003.6 918.2C1006.0 944.6 1009.0 980.5 1011.0 997.4C1013.0 1014.3 1014.0 1013.1 1015.8 1019.8C1017.7 1026.5 1019.8 1033.5 1022.0 1037.6C1024.1 1041.7 1025.9 1045.2 1028.7 1044.6C1031.5 1043.9 1035.6 1037.0 1038.6 1033.7C1041.6 1030.4 1043.9 1026.7 1046.5 1024.8C1049.2 1022.8 1051.5 1021.4 1054.5 1022.2C1057.4 1023.0 1061.4 1025.1 1064.4 1029.7C1067.3 1034.3 1070.0 1041.3 1072.3 1049.5C1074.6 1057.8 1076.2 1067.7 1078.2 1079.2C1080.2 1090.8 1082.2 1104.0 1084.2 1118.8C1086.1 1133.7 1088.1 1151.8 1090.1 1168.3C1092.1 1184.8 1094.1 1201.3 1096.0 1217.8C1098.0 1234.3 1099.7 1250.8 1102.0 1267.3C1104.3 1283.8 1107.3 1304.3 1109.9 1316.8C1112.5 1329.4 1115.2 1336.0 1117.8 1342.6C1120.5 1349.2 1123.6 1353.6 1125.7 1356.4C1127.9 1359.2 1128.4 1361.1 1130.7 1359.4C1133.0 1357.8 1136.5 1355.3 1139.6 1346.5C1142.7 1337.8 1146.5 1320.1 1149.5 1306.9C1152.5 1293.7 1154.8 1278.9 1157.4 1267.3C1160.1 1255.8 1162.7 1245.9 1165.3 1237.6C1168.0 1229.4 1170.5 1223.0 1173.3 1217.8C1176.1 1212.6 1179.2 1206.3 1182.2 1206.3C1185.1 1206.3 1188.6 1211.0 1191.1 1217.8C1193.6 1224.7 1195.0 1237.6 1197.0 1247.5C1199.0 1257.4 1201.0 1267.3 1203.0 1277.2C1205.0 1287.1 1206.6 1296.6 1208.9 1306.9C1211.2 1317.2 1214.2 1329.0 1216.8 1339.0C1219.5 1349.0 1221.5 1359.1 1224.8 1366.7C1228.1 1374.3 1232.0 1380.1 1236.6 1384.6C1241.3 1389.0 1247.2 1391.7 1252.5 1393.5C1257.8 1395.3 1263.0 1395.6 1268.3 1395.4C1273.6 1395.3 1280.5 1392.9 1284.2 1392.5C1287.8 1392.1 1287.0 1394.1 1290.0 1393.1C1293.0 1392.0 1297.6 1387.8 1301.9 1386.1C1306.2 1384.5 1311.1 1383.2 1315.7 1383.2C1320.4 1383.2 1325.0 1384.7 1329.6 1386.1C1334.2 1387.6 1338.8 1390.6 1343.5 1392.1C1348.1 1393.6 1352.4 1394.6 1357.3 1395.0C1362.3 1395.5 1367.9 1395.2 1373.2 1395.0C1378.4 1394.9 1383.7 1394.2 1389.0 1394.1C1394.3 1393.9 1399.6 1393.6 1404.9 1394.1C1410.1 1394.6 1416.1 1395.9 1420.7 1397.0C1425.3 1398.2 1428.6 1399.7 1432.6 1401.0C1436.5 1402.2 1440.5 1404.6 1444.5 1404.6C1448.4 1404.6 1452.4 1403.2 1456.3 1401.0C1460.3 1398.7 1464.3 1394.4 1468.2 1391.1C1472.2 1387.8 1476.1 1384.2 1480.1 1381.2C1484.1 1378.2 1488.0 1375.1 1492.0 1373.3C1495.9 1371.5 1500.2 1370.9 1503.9 1370.3C1507.5 1369.7 1509.8 1369.6 1513.8 1369.9C1517.7 1370.2 1522.7 1371.2 1527.6 1372.3C1532.6 1373.3 1538.2 1374.9 1543.5 1376.2C1548.7 1377.6 1554.0 1379.0 1559.3 1380.2C1564.6 1381.4 1569.9 1381.8 1575.1 1383.2C1580.4 1384.5 1586.4 1386.1 1591.0 1388.1C1595.6 1390.1 1598.9 1392.9 1602.9 1395.0C1606.8 1397.2 1611.3 1399.6 1614.8 1401.0C1618.2 1402.4 1620.4 1403.5 1623.7 1403.4C1627.0 1403.2 1630.8 1401.7 1634.6 1400.0C1638.3 1398.3 1642.5 1394.7 1646.4 1393.1C1650.4 1391.4 1654.7 1390.1 1658.3 1390.1C1661.9 1390.1 1664.9 1391.3 1668.2 1393.1C1671.5 1394.9 1674.8 1398.2 1678.1 1401.0C1681.4 1403.8 1684.8 1408.1 1687.9 1409.9C1691.0 1411.7 1693.5 1412.0 1696.8 1411.9C1700.1 1411.7 1703.9 1410.1 1707.7 1408.9C1711.5 1407.8 1716.0 1405.8 1719.6 1405.0C1723.2 1404.1 1726.4 1404.2 1729.5 1404.0C1732.6 1403.7 1735.8 1404.2 1738.4 1403.4C1741.1 1402.5 1743.1 1402.4 1745.3 1399.0C1747.6 1395.6 1749.8 1389.8 1751.7 1383.2C1753.5 1376.6 1755.0 1368.3 1756.4 1359.4C1757.9 1350.5 1758.8 1339.6 1760.2 1329.7C1761.6 1319.8 1763.7 1308.8 1764.8 1300.0C1765.8 1291.2 1765.5 1287.1 1766.3 1276.6C1767.2 1266.1 1768.6 1251.9 1769.7 1237.0C1770.8 1222.2 1771.8 1204.0 1773.1 1187.5C1774.3 1171.0 1775.7 1154.5 1777.0 1138.0C1778.3 1121.5 1779.7 1105.0 1781.0 1088.5C1782.3 1072.0 1783.5 1053.9 1785.0 1039.0C1786.4 1024.2 1788.1 1011.0 1789.9 999.4C1791.7 987.9 1793.9 969.7 1795.8 969.7C1797.8 969.7 1800.0 987.9 1801.8 999.4C1803.6 1011.0 1805.2 1024.2 1806.7 1039.0C1808.2 1053.9 1809.2 1072.0 1810.7 1088.5C1812.2 1105.0 1814.2 1121.5 1815.6 1138.0C1817.1 1154.5 1818.3 1171.0 1819.6 1187.5C1820.9 1204.0 1822.2 1222.2 1823.6 1237.0C1824.9 1251.9 1826.4 1266.1 1827.5 1276.6C1828.7 1287.1 1829.0 1291.2 1830.5 1300.0C1832.0 1308.8 1834.7 1320.5 1836.4 1329.7C1838.2 1338.9 1839.1 1348.0 1841.0 1355.4C1842.9 1362.9 1845.0 1369.2 1847.9 1374.5C1850.8 1379.7 1854.5 1383.6 1858.2 1387.1C1861.9 1390.7 1866.5 1392.5 1870.1 1395.6C1873.7 1398.8 1876.7 1402.3 1880.0 1405.9C1883.3 1409.5 1886.6 1413.8 1889.9 1417.2C1893.2 1420.6 1896.5 1424.0 1899.8 1426.3C1903.1 1428.6 1906.1 1430.7 1909.7 1431.1C1913.3 1431.5 1917.6 1430.1 1921.6 1428.7C1925.5 1427.3 1929.5 1425.1 1933.5 1422.8C1937.4 1420.5 1941.4 1417.5 1945.3 1414.9C1949.3 1412.2 1953.6 1409.9 1957.2 1406.9C1960.9 1404.0 1963.8 1400.3 1967.1 1397.0C1970.4 1393.7 1973.7 1389.5 1977.0 1387.1C1980.3 1384.8 1984.3 1383.6 1986.9 1382.8C1989.6 1381.9 1989.9 1381.8 1992.9 1382.2C1995.8 1382.6 2000.8 1384.1 2004.8 1385.1C2008.7 1386.2 2013.3 1388.0 2016.4 1388.3C2019.5 1388.6 2021.0 1387.3 2023.3 1386.9C2025.7 1386.5 2028.0 1385.6 2030.3 1385.9C2032.6 1386.3 2034.7 1387.6 2037.2 1388.9C2039.7 1390.2 2042.8 1392.8 2045.1 1393.9C2047.4 1395.0 2049.1 1395.8 2051.1 1395.4C2053.0 1395.1 2055.0 1394.8 2057.0 1391.9C2059.0 1389.0 2061.0 1384.3 2063.0 1378.0C2064.9 1371.7 2066.9 1364.2 2068.9 1354.3C2070.9 1344.4 2073.2 1331.2 2074.8 1318.6C2076.5 1306.1 2077.5 1292.2 2078.8 1279.0C2080.1 1265.8 2081.4 1252.6 2082.8 1239.4C2084.1 1226.2 2085.7 1209.7 2086.7 1199.8C2087.7 1189.9 2087.6 1191.8 2088.7 1180.0C2089.8 1168.2 2091.2 1152.9 2093.1 1129.0C2095.0 1105.1 2097.5 1067.5 2100.0 1036.8C2102.5 1006.0 2105.1 975.2 2108.2 944.5C2111.3 913.8 2115.6 875.4 2118.4 852.3C2121.2 829.2 2123.4 817.6 2125.3 806.1C2127.2 794.6 2128.5 788.0 2129.9 783.0C2131.3 778.0 2132.3 776.3 2133.5 776.3C2134.7 776.3 2135.4 778.0 2137.1 783.0C2138.8 788.0 2141.3 794.6 2143.8 806.1C2146.3 817.6 2148.8 829.2 2151.9 852.3C2155.0 875.4 2158.7 913.8 2162.3 944.5C2166.0 975.2 2170.0 1006.0 2173.8 1036.8C2177.6 1067.5 2182.2 1105.2 2185.3 1129.0C2188.4 1152.8 2189.8 1166.9 2192.2 1179.7C2194.6 1192.5 2197.4 1198.1 2199.6 1205.7C2201.8 1213.4 2203.5 1220.3 2205.5 1225.5C2207.5 1230.8 2209.8 1235.0 2211.5 1237.4C2213.1 1239.9 2213.8 1240.4 2215.4 1240.4C2217.1 1240.4 2219.1 1240.2 2221.4 1237.4C2223.7 1234.6 2226.6 1229.5 2229.3 1223.6C2231.9 1217.6 2234.9 1209.0 2237.2 1201.8C2239.5 1194.5 2240.8 1189.2 2243.1 1180.0C2245.5 1170.8 2248.7 1156.3 2251.1 1146.7C2253.4 1137.2 2256.3 1126.6 2257.4 1122.6"/>
</g>
<g stroke-width="11.8" stroke-linecap="round" shape-rendering="crispEdges">
<path stroke="#ff0000" d="M1466.3 181.5H1635.3"/>
<path stroke="#00ff00" d="M1466.3 292.0H1635.3"/>
<path stroke="#0000ff" d="M1466.3 402.5H1635.3"/>
<path stroke="#00ffff" d="M1466.3 513.0H1635.3"/>
<path stroke="#ff00ff" d="M1466.3 623.5H1635.3"/>
<path stroke="#ffff00" d="M1466.3 734.0H1635.3"/>
</g>
<text class="lg" x="1656.5" y="207.7">N100R0</text>
<text class="lg" x="1656.5" y="318.2">N80R20</text>
<text class="lg" x="1656.5" y="428.8">N60R40</text>
<text class="lg" x="1656.5" y="539.3">N40R60</text>
<text class="lg" x="1656.5" y="649.9">N20R80</text>
<text class="lg" x="1656.5" y="760.4">N0R100</text>
<text class="tk" x="342" y="1534.5" text-anchor="end">0.00</text>
<text class="tk" x="342" y="1250.4" text-anchor="end">0.02</text>
<text class="tk" x="342" y="966.3" text-anchor="end">0.04</text>
<text class="tk" x="342" y="682.2" text-anchor="end">0.06</text>
<text class="tk" x="342" y="398.1" text-anchor="end">0.08</text>
<text class="tk" x="342" y="114.0" text-anchor="end">0.10</text>
<text class="tk" x="392.0" y="1628" text-anchor="middle">1E-3</text>
<text class="tk" x="755.5" y="1628" text-anchor="middle">0.01</text>
<text class="tk" x="1119.1" y="1628" text-anchor="middle">0.1</text>
<text class="tk" x="1482.7" y="1628" text-anchor="middle">1</text>
<text class="tk" x="1846.2" y="1628" text-anchor="middle">10</text>
<text class="tk" x="2209.8" y="1628" text-anchor="middle">100</text>
<text class="ti" x="1354" y="1796" text-anchor="middle" letter-spacing="0.6">Pore size diameter/(<tspan font-weight="normal" stroke="#000" stroke-width="1.8" stroke-linejoin="round" dx="-1.5">μ</tspan><tspan dx="-1.5">m)</tspan></text>
<text class="ti" transform="translate(108 1596.5) rotate(-90)" letter-spacing="0.6">Log differential intrusion/(mL/g)</text>
<text x="1304.5" y="2087.5" text-anchor="middle" style="font-family:'Liberation Serif','DejaVu Serif',serif;font-size:76px">(<tspan font-weight="bold">b</tspan>)</text>
<g fill="#fff" stroke="none">
<rect x="1725.48" y="199.20" width="18.50" height="10.50"/>
<rect x="1752.28" y="199.20" width="19.20" height="10.50"/>
<rect x="1840.53" y="751.90" width="18.50" height="10.50"/>
<rect x="1867.33" y="751.90" width="19.20" height="10.50"/>
<rect x="245.88" y="103.00" width="16.95" height="13.00"/>
<rect x="275.48" y="103.00" width="16.40" height="13.00"/>
<rect x="300.95" y="1617.00" width="16.95" height="13.00"/>
<rect x="330.55" y="1617.00" width="16.40" height="13.00"/>
<rect x="797.02" y="1617.00" width="16.95" height="13.00"/>
<rect x="826.62" y="1617.00" width="16.40" height="13.00"/>
<rect x="1135.58" y="1617.00" width="16.95" height="13.00"/>
<rect x="1165.18" y="1617.00" width="16.40" height="13.00"/>
<rect x="1461.67" y="1617.00" width="16.95" height="13.00"/>
<rect x="1491.27" y="1617.00" width="16.40" height="13.00"/>
<rect x="1800.15" y="1617.00" width="16.95" height="13.00"/>
<rect x="1829.75" y="1617.00" width="16.40" height="13.00"/>
<rect x="2138.71" y="1617.00" width="16.95" height="13.00"/>
<rect x="2168.31" y="1617.00" width="16.40" height="13.00"/>
</g>
</svg></body></html>
